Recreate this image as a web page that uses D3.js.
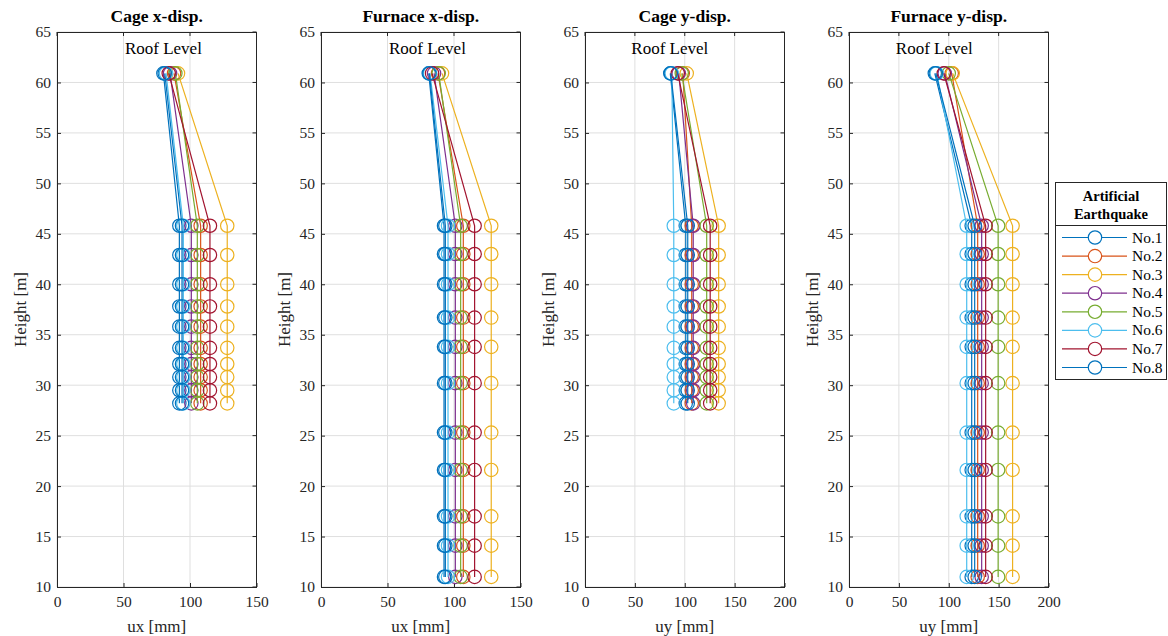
<!DOCTYPE html>
<html><head><meta charset="utf-8">
<script src="https://cdn.jsdelivr.net/npm/d3@7"></script>
<style>
body{margin:0;background:#fff;}
svg, svg text{font-family:"Liberation Serif","Times New Roman",serif !important;}
</style></head>
<body><svg id="c" width="1168" height="636" font-family="Liberation Serif"></svg>
<script>
// ---- data ----
const seriesNames = ["No.1","No.2","No.3","No.4","No.5","No.6","No.7","No.8"];
const seriesColors = ["#0072BD","#D95319","#EDB120","#7E2F8E","#77AC30","#4DBEEE","#A2142F","#0072BD"];
const panelTitles = ["Cage x-disp.","Furnace x-disp.","Cage y-disp.","Furnace y-disp."];
const panelXLabels = ["ux [mm]","ux [mm]","uy [mm]","uy [mm]"];
const panelXMax = [150,150,200,200];
const yTicks = [10,15,20,25,30,35,40,45,50,55,60,65];
const xTicks150 = [0,50,100,150];
const xTicks200 = [0,50,100,150,200];
// heights (roof first)
const cageLevels = [60.9,45.8,42.9,40.0,37.8,35.8,33.7,32.1,30.8,29.5,28.2];
const furnaceLevels = [60.9,45.8,43.0,40.0,36.7,33.8,30.2,25.3,21.6,17.0,14.1,11.0];
// Cage x-disp. (mm)
const cageX_1 = [80,92,92,92,92,92,92,92,92,92,92];
const cageX_2 = [88,108,108,108,108,108,108,108,108,108,108];
const cageX_3 = [91,128,128,128,128,128,128,128,128,128,128];
const cageX_4 = [85,101,101,101,101,101,101,101,101,101,101];
const cageX_5 = [89,105.5,105.5,105.5,105.5,105.5,105.5,105.5,105.5,105.5,105.5];
const cageX_6 = [82,95,95,95,95,95,95,95,95,95,95];
const cageX_7 = [84,115,115,115,115,115,115,115,115,115,115];
const cageX_8 = [81,94,94,94,94,94,94,94,94,94,94];
// Furnace x-disp. (mm)
const furnX_1 = [81,92.5,92.5,92.5,92.5,92.5,92.5,92.5,92.5,92.5,92.5,92.5];
const furnX_2 = [88,107,107,107,107,107,107,107,107,107,107,107];
const furnX_3 = [91,128,128,128,128,128,128,128,128,128,128,128];
const furnX_4 = [85,101,101,101,101,101,101,101,101,101,101,101];
const furnX_5 = [88.5,105,105,105,105,105,105,105,105,105,105,105];
const furnX_6 = [82,95.5,95.5,95.5,95.5,95.5,95.5,95.5,95.5,95.5,95.5,95.5];
const furnX_7 = [83.5,115.5,115.5,115.5,115.5,115.5,115.5,115.5,115.5,115.5,115.5,115.5];
const furnX_8 = [81.5,93.5,93.5,93.5,93.5,93.5,93.5,93.5,93.5,93.5,93.5,93.5];
// Cage y-disp. (mm)
const cageY_1 = [85.5,101,101,101,101,101,101,101,101,101,101];
const cageY_2 = [98,107,107,107,107,107,107,107,107,107,107];
const cageY_3 = [102,134,134,134,134,134,134,134,134,134,134];
const cageY_4 = [94,108.5,108.5,108.5,108.5,108.5,108.5,108.5,108.5,108.5,108.5];
const cageY_5 = [97,122,122,122,122,122,122,122,122,122,122];
const cageY_6 = [87,89,89,89,89,89,89,89,89,89,89];
const cageY_7 = [93,125.5,125.5,125.5,125.5,125.5,125.5,125.5,125.5,125.5,125.5];
const cageY_8 = [86,103,103,103,103,103,103,103,103,103,103];
// Furnace y-disp. (mm)
const furnY_1 = [86,123,123,123,123,123,123,123,123,123,123,123];
const furnY_2 = [103,129,129,129,129,129,129,129,129,129,129,129];
const furnY_3 = [104,164,164,164,164,164,164,164,164,164,164,164];
const furnY_4 = [96,133,133,133,133,133,133,133,133,133,133,133];
const furnY_5 = [100,149.5,149.5,149.5,149.5,149.5,149.5,149.5,149.5,149.5,149.5,149.5];
const furnY_6 = [88,118,118,118,118,118,118,118,118,118,118,118];
const furnY_7 = [95,137,137,137,137,137,137,137,137,137,137,137];
const furnY_8 = [87,126,126,126,126,126,126,126,126,126,126,126];

const panelLevels = [cageLevels,furnaceLevels,cageLevels,furnaceLevels];
const panelValues = [
  [cageX_1,cageX_2,cageX_3,cageX_4,cageX_5,cageX_6,cageX_7,cageX_8],
  [furnX_1,furnX_2,furnX_3,furnX_4,furnX_5,furnX_6,furnX_7,furnX_8],
  [cageY_1,cageY_2,cageY_3,cageY_4,cageY_5,cageY_6,cageY_7,cageY_8],
  [furnY_1,furnY_2,furnY_3,furnY_4,furnY_5,furnY_6,furnY_7,furnY_8]
];
const roofLabelX = [80,80,85,85.5];
const roofLabelY = 62.9;

// ---- layout ----
const FONT = "Liberation Serif";
const svg = d3.select("#c");
const panelLeft = [57,321,585,849];
const pw = 199.5, plotTop = 32, plotBottom = 587;
const axisCol = "#262626", gridCol = "#dfdfdf";

panelTitles.forEach((title,p)=>{
  const g = svg.append("g");
  const x = d3.scaleLinear().domain([0,panelXMax[p]]).range([panelLeft[p],panelLeft[p]+pw]);
  const y = d3.scaleLinear().domain([10,65]).range([plotBottom,plotTop]);
  const xt = panelXMax[p]===150 ? xTicks150 : xTicks200;
  // grid
  g.selectAll(".gx").data(xt).join("line")
    .attr("x1",d=>x(d)).attr("x2",d=>x(d)).attr("y1",plotTop).attr("y2",plotBottom)
    .attr("stroke",gridCol).attr("stroke-width",1);
  g.selectAll(".gy").data(yTicks).join("line")
    .attr("x1",x(0)).attr("x2",x(panelXMax[p])).attr("y1",d=>y(d)).attr("y2",d=>y(d))
    .attr("stroke",gridCol).attr("stroke-width",1);
  // axes
  const ax = g.append("g").attr("transform",`translate(0,${plotBottom})`)
    .call(d3.axisBottom(x).tickValues(xt).tickSizeInner(-4).tickSizeOuter(0).tickPadding(9));
  const ay = g.append("g").attr("transform",`translate(${panelLeft[p]},0)`)
    .call(d3.axisLeft(y).tickValues(yTicks).tickSizeInner(-4).tickSizeOuter(0).tickPadding(6));
  [ax,ay].forEach(a=>{
    a.attr("font-family",FONT).attr("font-size",15.5);
    a.select(".domain").attr("stroke",axisCol);
    a.selectAll(".tick line").attr("stroke",axisCol);
    a.selectAll("text").attr("font-size",15.5).attr("fill",axisCol).attr("font-family",FONT);
  });
  // box top/right
  g.append("line").attr("x1",x(0)).attr("x2",x(panelXMax[p])).attr("y1",plotTop+0.5).attr("y2",plotTop+0.5).attr("stroke",axisCol);
  g.append("line").attr("x1",x(panelXMax[p])).attr("x2",x(panelXMax[p])).attr("y1",plotTop).attr("y2",plotBottom).attr("stroke",axisCol);
  // ticks on top/right
  g.selectAll(".tt").data(xt).join("line").attr("x1",d=>x(d)).attr("x2",d=>x(d)).attr("y1",plotTop).attr("y2",plotTop+4).attr("stroke",axisCol);
  g.selectAll(".tr").data(yTicks).join("line").attr("x1",x(panelXMax[p])-4).attr("x2",x(panelXMax[p])).attr("y1",d=>y(d)).attr("y2",d=>y(d)).attr("stroke",axisCol);

  // title & labels
  g.append("text").attr("x",panelLeft[p]+pw/2).attr("y",22).attr("text-anchor","middle")
    .attr("font-family",FONT).attr("font-size",17.5).attr("font-weight","bold").attr("fill","#000").text(title);
  g.append("text").attr("x",panelLeft[p]+pw/2).attr("y",632).attr("text-anchor","middle")
    .attr("font-family",FONT).attr("font-size",17).attr("fill",axisCol).text(panelXLabels[p]);
  g.append("text").attr("transform",`translate(${panelLeft[p]-31},${(plotTop+plotBottom)/2}) rotate(-90)`)
    .attr("text-anchor","middle").attr("font-family",FONT).attr("font-size",17).attr("fill",axisCol).text("Height [m]");
  g.append("text").attr("x",x(roofLabelX[p])).attr("y",y(roofLabelY)+1).attr("text-anchor","middle")
    .attr("font-family",FONT).attr("font-size",17).attr("fill","#000").text("Roof Level");

  // series
  const levels = panelLevels[p];
  const line = d3.line().x(d=>x(d[0])).y(d=>y(d[1]));
  panelValues[p].forEach((vals,s)=>{
    const pts = vals.map((v,i)=>[v,levels[i]]);
    g.append("path").attr("d",line(pts)).attr("fill","none")
      .attr("stroke",seriesColors[s]).attr("stroke-width",1.2);
    g.selectAll(null).data(pts).join("circle")
      .attr("cx",d=>x(d[0])).attr("cy",d=>y(d[1])).attr("r",6.7)
      .attr("fill","none").attr("stroke",seriesColors[s]).attr("stroke-width",1.2);
  });
});

// ---- legend ----
const lg = svg.append("g");
const lx0 = 1055.5, ly0 = 182.5, lw = 111, lh = 197;
lg.append("rect").attr("x",lx0).attr("y",ly0).attr("width",lw).attr("height",lh)
  .attr("fill","#fff").attr("stroke",axisCol).attr("stroke-width",1);
lg.append("text").attr("x",lx0+lw/2).attr("y",ly0+18).attr("text-anchor","middle")
  .attr("font-family",FONT).attr("font-size",14.5).attr("font-weight","bold").attr("fill","#000").text("Artificial");
lg.append("text").attr("x",lx0+lw/2).attr("y",ly0+36).attr("text-anchor","middle")
  .attr("font-family",FONT).attr("font-size",14.5).attr("font-weight","bold").attr("fill","#000").text("Earthquake");
lg.append("line").attr("x1",lx0).attr("x2",lx0+lw).attr("y1",ly0+43).attr("y2",ly0+43).attr("stroke",axisCol);
const ly = d3.scalePoint().domain(seriesNames).range([237.5,367.5]);
seriesNames.forEach((n,s)=>{
  const yy = ly(n);
  lg.append("line").attr("x1",1062).attr("x2",1127).attr("y1",yy).attr("y2",yy)
    .attr("stroke",seriesColors[s]).attr("stroke-width",1.2);
  lg.append("circle").attr("cx",1095).attr("cy",yy).attr("r",6.7).attr("fill","#fff")
    .attr("stroke",seriesColors[s]).attr("stroke-width",1.2);
  lg.append("text").attr("x",1132).attr("y",yy+5).attr("font-family",FONT).attr("font-size",15.5).attr("fill","#000").text(n);
});
</script></body></html>
